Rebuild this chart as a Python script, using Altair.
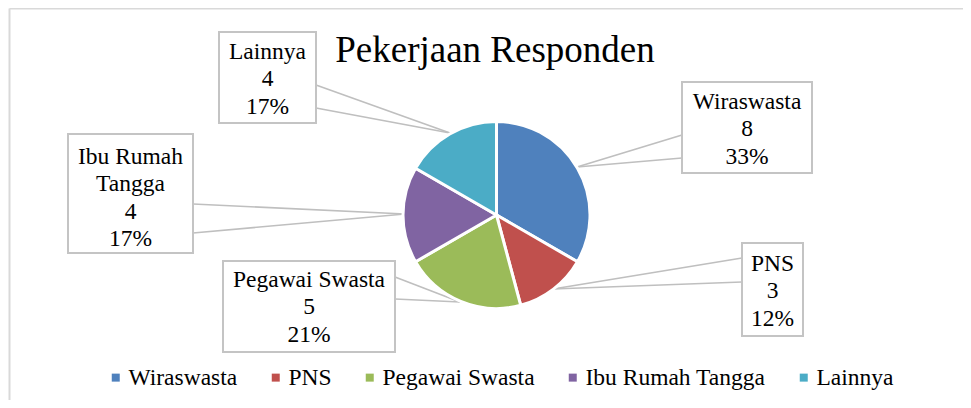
import altair as alt
import pandas as pd

# ---------------- data ----------------
categories = ["Wiraswasta", "PNS", "Pegawai Swasta", "Ibu Rumah Tangga", "Lainnya"]
counts = [8, 3, 5, 4, 4]
percent_labels = ["33%", "12%", "21%", "17%", "17%"]
label_names = ["Wiraswasta", "PNS", "Pegawai Swasta", "Ibu Rumah\nTangga", "Lainnya"]
colors = ["#4F81BD", "#C0504D", "#9BBB59", "#8064A2", "#4BACC6"]
title_text = "Pekerjaan Responden"

# ---------------- layout (page pixels) ----------------
W, H = 955, 392
ORIGIN = 8
FONT = "Liberation Serif"
pie_cx, pie_cy, pie_r = 496.5, 215, 93.5
title_x, title_y = 495, 62
box_left = [682, 742, 223, 68, 219]
box_right = [812, 803, 395, 193, 316]
box_top = [82, 243, 261, 134, 32]
box_bottom = [173, 336, 352, 253, 123]
first_baseline = [109, 271, 287, 164, 59]
leader_y1 = [135, 258, 277, 204, 85]
leader_y2 = [158, 282, 299, 233, 108]
leader_from_left = [True, True, False, False, False]
tip_x = [577, 553, 460, 405, 450]
tip_y = [167, 289, 302, 214, 133]
border_x, border_y = 9.5, 8.5

xs = alt.Scale(domain=[ORIGIN, ORIGIN + W], nice=False, zero=False)
ys = alt.Scale(domain=[ORIGIN, ORIGIN + H], nice=False, zero=False, reverse=True)

# pie table
pie_df = pd.DataFrame({
    "cat": categories,
    "value": counts,
    "idx": list(range(len(categories))),
})

# callout boxes
box_df = pd.DataFrame({
    "x": box_left, "x2": box_right, "y": box_top, "y2": box_bottom,
    "cx": [(a + b) / 2 for a, b in zip(box_left, box_right)],
    "by": first_baseline,
    "label": [f"{n}\n{c}\n{p}" for n, c, p in zip(label_names, counts, percent_labels)],
})

# leader lines (two per callout)
rows = []
for i in range(len(categories)):
    sx = box_left[i] if leader_from_left[i] else box_right[i]
    for yy in (leader_y1[i], leader_y2[i]):
        rows.append({"x": sx, "y": yy, "x2": tip_x[i], "y2": tip_y[i]})
lead_df = pd.DataFrame(rows)

border_df = pd.DataFrame({
    "x": [border_x, border_x], "x2": [ORIGIN + W, border_x],
    "y": [border_y, border_y], "y2": [border_y, ORIGIN + H],
})

border = alt.Chart(border_df).mark_rule(color="#d9d9d9", strokeWidth=2).encode(
    x=alt.X("x:Q", scale=xs, axis=None), x2="x2:Q",
    y=alt.Y("y:Q", scale=ys, axis=None), y2="y2:Q",
)

leaders = alt.Chart(lead_df).mark_rule(color="#bfbfbf", strokeWidth=1.6).encode(
    x=alt.X("x:Q", scale=xs, axis=None), x2="x2:Q",
    y=alt.Y("y:Q", scale=ys, axis=None), y2="y2:Q",
)

boxes = alt.Chart(box_df).mark_rect(fill="white", stroke="#c4c4c4", strokeWidth=2).encode(
    x=alt.X("x:Q", scale=xs, axis=None), x2="x2:Q",
    y=alt.Y("y:Q", scale=ys, axis=None), y2="y2:Q",
)

box_text = alt.Chart(box_df).mark_text(
    font=FONT, fontSize=23.5, color="#000000", align="center",
    baseline="alphabetic", lineBreak="\n", lineHeight=27.3,
).encode(
    x=alt.X("cx:Q", scale=xs, axis=None),
    y=alt.Y("by:Q", scale=ys, axis=None),
    text="label:N",
)

pie = alt.Chart(pie_df).mark_arc(radius=pie_r, stroke="white", strokeWidth=3).encode(
    theta=alt.Theta("value:Q", stack=True),
    order=alt.Order("idx:Q"),
    color=alt.Color(
        "cat:N",
        scale=alt.Scale(domain=categories, range=colors),
        sort=categories,
        legend=alt.Legend(
            orient="none", legendX=96, legendY=357.5, direction="horizontal",
            title=None, symbolType="square", symbolSize=64, symbolStrokeWidth=0,
            labelFont=FONT, labelFontSize=23.5, labelColor="#000000",
            columnPadding=26, labelOffset=1, padding=0, labelLimit=0,
        ),
    ),
    x=alt.value(pie_cx - ORIGIN),
    y=alt.value(pie_cy - ORIGIN),
)

title_df = pd.DataFrame({"x": [title_x], "y": [title_y], "t": [title_text]})
title = alt.Chart(title_df).mark_text(
    font=FONT, fontSize=37, color="#000000", align="center", baseline="alphabetic",
).encode(
    x=alt.X("x:Q", scale=xs, axis=None),
    y=alt.Y("y:Q", scale=ys, axis=None),
    text="t:N",
)

chart = alt.layer(border, leaders, boxes, box_text, pie, title).properties(
    width=W, height=H, padding=0, autosize=alt.AutoSizeParams(type="none"),
    background="white",
).configure_view(stroke=None)

chart.save("out.html", embed_options={"renderer": "svg", "actions": False})
